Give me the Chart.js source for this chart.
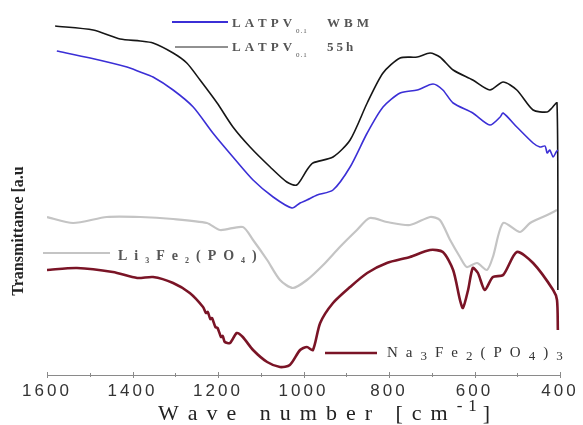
<!DOCTYPE html>
<html>
<head>
<meta charset="utf-8">
<script src="https://cdn.jsdelivr.net/npm/chart.js@4.4.1/dist/chart.umd.min.js"></script>
<style>
  html, body { margin: 0; padding: 0; background: #fff; }
  #wrap { width: 583px; height: 425px; }
</style>
</head>
<body>
<div id="wrap"><canvas id="ftir"></canvas></div>
<script>
// wave numbers [cm-1] and transmittance (arbitrary units, offset per curve)
const wnWBM = [1577, 1499, 1413, 1382, 1352, 1305, 1258, 1212, 1165, 1118, 1071, 1027, 1008, 992, 968, 931, 891, 851, 814, 774, 734, 697, 674, 650, 604, 564, 540, 533, 501, 463, 447, 435, 430, 424, 416, 409, 405];
const trWBM = [324, 317, 308, 303, 298, 285, 268, 242, 218, 195, 178, 167, 172, 175, 180, 185, 208, 242, 268, 282, 285, 291, 285, 272, 262, 250, 258, 262, 248, 232, 228, 229, 222, 225, 218, 223, 225];

const wn55h = [1581, 1492, 1429, 1382, 1352, 1305, 1273, 1242, 1202, 1165, 1125, 1078, 1039, 1016, 992, 978, 931, 891, 851, 814, 774, 734, 704, 681, 650, 604, 564, 533, 501, 463, 430, 419, 407, 405];
const tr55h = [349, 345, 336, 334, 332, 322, 312, 295, 272, 248, 228, 208, 193, 190, 205, 212, 218, 235, 272, 302, 317, 318, 322, 318, 305, 295, 285, 293, 285, 265, 263, 267, 272, 85];

const wnLi = [1600, 1539, 1460, 1382, 1305, 1226, 1195, 1142, 1118, 1085, 1055, 1025, 992, 954, 915, 875, 845, 805, 751, 704, 681, 657, 634, 618, 594, 571, 557, 533, 494, 470, 430, 407];
const trLi = [158, 152, 158, 158, 156, 152, 145, 148, 135, 115, 95, 87, 95, 110, 128, 145, 157, 153, 150, 158, 155, 135, 118, 108, 112, 105, 118, 152, 143, 152, 160, 165];

const wnNa = [1600, 1530, 1446, 1389, 1352, 1305, 1266, 1235, 1228, 1224, 1218, 1214, 1206, 1201, 1193, 1189, 1184, 1172, 1156, 1142, 1118, 1085, 1055, 1032, 1008, 992, 978, 961, 931, 891, 851, 805, 751, 704, 674, 650, 634, 627, 615, 604, 592, 576, 557, 533, 501, 463, 416, 407, 405];
const trNa = [105, 107, 103, 97, 98, 92, 82, 68, 62, 63, 56, 57, 48, 47, 38, 39, 33, 32, 42, 38, 25, 13, 8, 10, 25, 28, 25, 52, 72, 88, 102, 112, 118, 125, 123, 105, 75, 67, 85, 107, 102, 85, 98, 100, 123, 112, 85, 75, 45];

const tickValues = [1600, 1400, 1200, 1000, 800, 600, 400];

function pts(xs, ys) {
	return xs.map((x, i) => ({ x: x, y: ys[i] }));
}

// draws text char by char so the wide letter spacing of the original can be kept
function drawRich(ctx, x, baseline, parts, spacing) {
	for (const p of parts) {
		ctx.font = (p.bold ? "bold " : "") + p.size + "px 'Liberation Serif'";
		const sp = (p.sp !== undefined) ? p.sp : spacing;
		for (const ch of p.t) {
			ctx.fillText(ch, x, baseline + (p.dy || 0));
			x += ctx.measureText(ch).width + sp;
		}
	}
	return x;
}

function legendLine(ctx, x1, x2, y, color, width) {
	ctx.strokeStyle = color;
	ctx.lineWidth = width;
	ctx.beginPath();
	ctx.moveTo(x1, y);
	ctx.lineTo(x2, y);
	ctx.stroke();
}

const annotations = {
	id: "annotations",
	beforeDraw(chart) {
		chart.ctx.letterSpacing = "3px";
	},
	afterDraw(chart) {
		const ctx = chart.ctx;
		const xs = chart.scales.x;
		const yAxis = chart.chartArea.bottom;
		ctx.save();
		ctx.letterSpacing = "0px";
		ctx.textAlign = "left";
		ctx.textBaseline = "alphabetic";

		// small tick marks on the axis line
		ctx.strokeStyle = "#8a8a8a";
		ctx.lineWidth = 1;
		for (let w = 1600; w >= 400; w -= 100) {
			const px = Math.round(xs.getPixelForValue(w)) + 0.5;
			const len = (w % 200 === 0) ? 3 : 2;
			ctx.beginPath();
			ctx.moveTo(px, yAxis - len);
			ctx.lineTo(px, yAxis + len);
			ctx.stroke();
		}

		// legend entries
		legendLine(ctx, 172, 228, 22, "#3b2fd6", 2);
		legendLine(ctx, 175, 228, 47, "#222", 1);
		legendLine(ctx, 43, 110, 253, "#c4c4c4", 2);
		legendLine(ctx, 325, 377, 353, "#7a1426", 2.5);

		ctx.fillStyle = "#555";
		drawRich(ctx, 232, 27, [{ t: "LATPV", size: 13, bold: true }, { t: "0.1", size: 7, dy: 6, sp: 1 }], 4);
		drawRich(ctx, 327, 27, [{ t: "WBM", size: 13, bold: true }], 4);
		drawRich(ctx, 232, 51, [{ t: "LATPV", size: 13, bold: true }, { t: "0.1", size: 7, dy: 6, sp: 1 }], 4);
		drawRich(ctx, 327, 51, [{ t: "55h", size: 13, bold: true }], 3);

		drawRich(ctx, 118, 260, [
			{ t: "Li", size: 14, bold: true }, { t: "3", size: 8, dy: 3, bold: true },
			{ t: "Fe", size: 14, bold: true }, { t: "2", size: 8, dy: 3, bold: true },
			{ t: "(PO", size: 14, bold: true }, { t: "4", size: 8, dy: 3, bold: true },
			{ t: ")", size: 14, bold: true }
		], 7);

		ctx.fillStyle = "#333";
		drawRich(ctx, 387, 357, [
			{ t: "Na", size: 15 }, { t: "3", size: 13, dy: 3 },
			{ t: "Fe", size: 15 }, { t: "2", size: 13, dy: 3 },
			{ t: "(PO", size: 15 }, { t: "4", size: 13, dy: 3 },
			{ t: ")", size: 15 }, { t: "3", size: 13, dy: 3 }
		], 8);

		// axis titles
		ctx.fillStyle = "#222";
		drawRich(ctx, 158, 420, [
			{ t: "Wave number [cm", size: 22 },
			{ t: "-1", size: 17, dy: -9, sp: 6 },
			{ t: "]", size: 22, sp: 0 }
		], 9);

		ctx.translate(19, 231);
		ctx.rotate(-Math.PI / 2);
		ctx.textAlign = "center";
		ctx.textBaseline = "middle";
		ctx.font = "bold 16px 'Liberation Serif'";
		ctx.fillText("Transmittance [a.u", 0, 0);
		ctx.restore();
	}
};

const ctx = document.getElementById("ftir").getContext("2d");

new Chart(ctx, {
	type: "line",
	data: {
		datasets: [
			{ label: "LATPV0.1 WBM", data: pts(wnWBM, trWBM), borderColor: "#3b2fd6", borderWidth: 1.6 },
			{ label: "LATPV0.1 55h", data: pts(wn55h, tr55h), borderColor: "#161616", borderWidth: 1.6 },
			{ label: "Li3Fe2(PO4)3", data: pts(wnLi, trLi), borderColor: "#c4c4c4", borderWidth: 2.2 },
			{ label: "Na3Fe2(PO4)3", data: pts(wnNa, trNa), borderColor: "#7a1426", borderWidth: 2.6 }
		]
	},
	options: {
		responsive: true,
		maintainAspectRatio: false,
		animation: false,
		elements: {
			point: { radius: 0 },
			line: { tension: 0.25, fill: false }
		},
		layout: {
			padding: { left: 47, right: 23, top: 10, bottom: 0 }
		},
		plugins: {
			legend: { display: false },
			tooltip: { enabled: false }
		},
		scales: {
			x: {
				type: "linear",
				reverse: true,
				min: 400,
				max: 1600,
				afterBuildTicks: function(axis) {
					axis.ticks = tickValues.map(v => ({ value: v }));
				},
				afterFit: function(axis) {
					axis.height = 50;
					axis.paddingLeft = 0;
					axis.paddingRight = 0;
				},
				grid: { display: false, drawTicks: false },
				border: { display: true, color: "#8a8a8a", width: 1 },
				ticks: {
					padding: 6,
					maxRotation: 0,
					color: "#333",
					font: { family: "'Liberation Sans'", size: 17 },
					callback: function(value) {
						return value;
					}
				}
			},
			y: {
				display: false,
				min: 0,
				max: 365
			}
		}
	},
	plugins: [annotations]
});
</script>
</body>
</html>
